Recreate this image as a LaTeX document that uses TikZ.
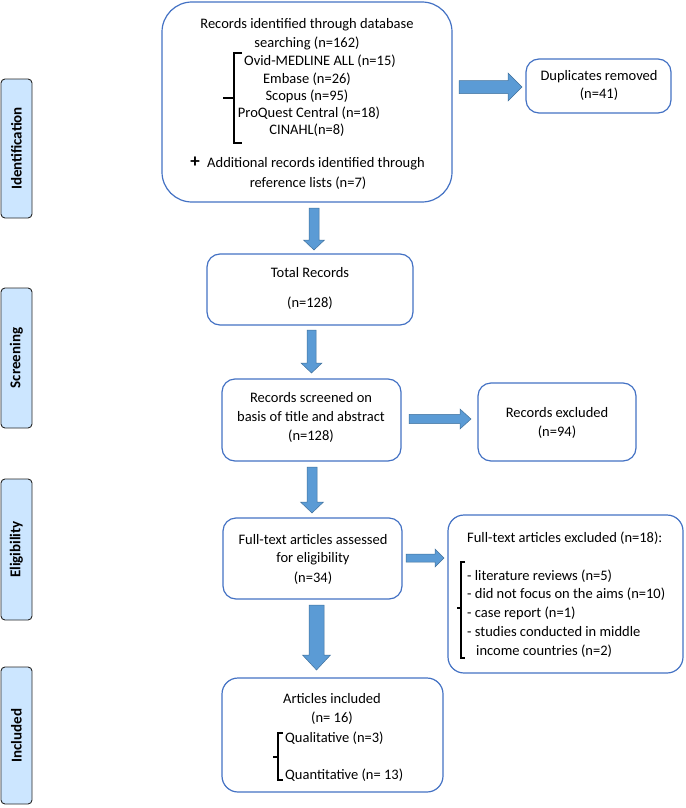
\documentclass[tikz,border=0pt]{standalone}
\usepackage{fontspec}
\setmainfont{Carlito}
\definecolor{boxblue}{RGB}{68,114,196}
\definecolor{arrfill}{RGB}{91,155,213}
\definecolor{arrline}{RGB}{65,113,156}
\definecolor{labfill}{RGB}{204,230,255}
\newcommand\darrow[6]{\draw[barrow] ({#1-#4},#2) -- ({#1+#4},#2) -- ({#1+#4},{#3-#6}) -- ({#1+#5},{#3-#6}) -- (#1,#3) -- ({#1-#5},{#3-#6}) -- ({#1-#4},{#3-#6}) -- cycle;}
\newcommand\rarrow[6]{\draw[barrow] (#2,{#1-#4}) -- (#2,{#1+#4}) -- ({#3-#6},{#1+#4}) -- ({#3-#6},{#1+#5}) -- (#3,#1) -- ({#3-#6},{#1-#5}) -- ({#3-#6},{#1-#4}) -- cycle;}
\begin{document}
\begin{tikzpicture}[x=1pt,y=-1pt,
  every node/.style={font=\fontsize{14.5}{17.5}\selectfont, inner sep=0pt},
  box/.style={draw=boxblue, line width=1.2pt, rounded corners=13pt, fill=white},
  txt/.style={align=center},
  barrow/.style={fill=arrfill, draw=arrline, line width=0.5pt},
  brk/.style={draw=black, line width=1.4pt},
  lab/.style={draw=black!85, line width=0.9pt, fill=labfill, rounded corners=4pt, rotate=90,
    minimum height=31pt, font=\fontsize{15}{17}\selectfont\bfseries}
]
\useasboundingbox (0,0) rectangle (685,808);

% side labels
\node[lab, minimum width=139pt] (lid) at (16.5,148.5) {Identification};
\node[lab, minimum width=140pt] (lsc) at (16.5,358) {Screening};
\node[lab, minimum width=141pt] (lel) at (16.5,549.5) {Eligibility};
\node[lab, minimum width=137pt] (lin) at (16.5,735.5) {Included};

% top box
\node[box, rounded corners=30pt, minimum width=290pt, minimum height=200pt] (ident) at (307,102) {};
\node[txt] (t1) at (307,25) {Records identified through database};
\node[txt] (t2) at (307,43) {searching (n=162)};
\node[txt] (t3) at (320,61) {Ovid-MEDLINE ALL (n=15)};
\node[txt] (t4) at (307,79) {Embase (n=26)};
\node[txt] (t5) at (307,96) {Scopus (n=95)};
\node[txt] (t6) at (309,113) {ProQuest Central (n=18)};
\node[txt] (t7) at (307,130) {CINAHL(n=8)};
\node[txt, font=\fontsize{19}{19}\selectfont\bfseries] (plus) at (195,162) {+};
\node[txt] (t8) at (316,164) {Additional records identified through};
\node[txt] (t9) at (308,183) {reference lists (n=7)};
\draw[brk] (242,53) -- (234,53) -- (234,143) -- (242,143) (234,98) -- (223,98);

% duplicates
\node[box, minimum width=145pt, minimum height=54pt] (dup) at (598.5,86) {};
\node[txt] (d1) at (599,77) {Duplicates removed};
\node[txt] (d2) at (599,94) {(n=41)};
\rarrow{87}{459}{522}{6.5}{14}{14}

% total records
\darrow{314}{208}{250}{5}{10.5}{10}
\node[box, minimum width=206pt, minimum height=71pt] (total) at (310,289.5) {};
\node[txt] (tr1) at (310,273) {Total Records};
\node[txt] (tr2) at (310,303) {(n=128)};

% screened
\darrow{311.5}{330}{373}{4.5}{10.5}{10}
\node[box, minimum width=179pt, minimum height=82pt] (screen) at (311.5,420) {};
\node[txt] (s1) at (311,398) {Records screened on};
\node[txt] (s2) at (311,417) {basis of title and abstract};
\node[txt] (s3) at (311,436) {(n=128)};
\rarrow{419}{409}{471}{4.7}{10}{11}
\node[box, minimum width=158pt, minimum height=78pt] (excl) at (557,422) {};
\node[txt] (e1) at (557,413) {Records excluded};
\node[txt] (e2) at (557,432) {(n=94)};

% full text
\darrow{312}{467}{513}{5}{11.5}{11}
\node[box, minimum width=179pt, minimum height=81pt] (full) at (312.5,558.5) {};
\node[txt] (f1) at (313,540) {Full-text articles assessed};
\node[txt] (f2) at (313,559) {for eligibility};
\node[txt] (f3) at (313,578) {(n=34)};
\rarrow{558}{406}{444}{4}{9}{9}
\node[box, rounded corners=16pt, minimum width=235pt, minimum height=158pt] (ftex) at (565.5,594) {};
\node[anchor=west] (x1) at (467,538) {Full-text articles excluded (n=18):};
\node[anchor=west] (x2) at (467,576) {- literature reviews (n=5)};
\node[anchor=west] (x3) at (467,594) {- did not focus on the aims (n=10)};
\node[anchor=west] (x4) at (467,613) {- case report (n=1)};
\node[anchor=west] (x5) at (467,632) {- studies conducted in middle};
\node[anchor=west] (x6) at (476,651) {income countries (n=2)};
\draw[brk] (465,562) -- (461,562) -- (461,658) -- (465,658) (461,608) -- (457,608);

% included
\darrow{316.5}{605}{670}{7.5}{14}{15}
\node[box, rounded corners=16pt, minimum width=221pt, minimum height=114pt] (incl) at (332.5,735) {};
\node[txt] (i1) at (332,699) {Articles included};
\node[txt] (i2) at (332,718) {(n= 16)};
\node[anchor=west] (i3) at (285,738) {Qualitative (n=3)};
\node[anchor=west] (i4) at (285,775) {Quantitative (n= 13)};
\draw[brk] (283,733) -- (278,733) -- (278,780) -- (283,780) (278,757) -- (273,757);
\end{tikzpicture}
\end{document}
